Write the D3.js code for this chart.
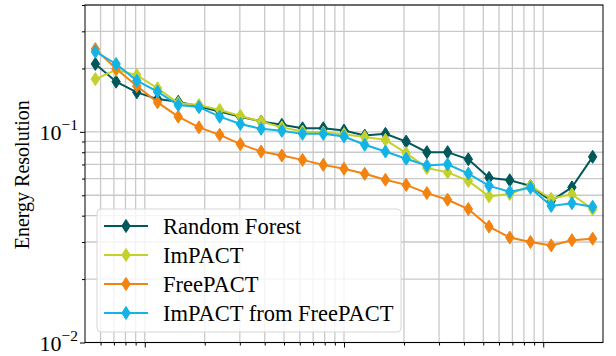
<!DOCTYPE html>
<html>
<head>
<meta charset="utf-8">
<script src="https://cdn.jsdelivr.net/npm/d3@7"></script>
<style>
  html, body { margin: 0; padding: 0; background: #fff; }
  svg { display: block; }
  text { font-family: "Liberation Serif", "DejaVu Serif", serif; fill: #000; }
</style>
</head>
<body>
<svg id="chart" width="616" height="356"></svg>
<script>
// Energy bin centres (TeV), log-spaced bins between 10^-1.3 and 10^1.3
const energies = [0.0565, 0.0718, 0.0912, 0.1159, 0.1472, 0.1871, 0.2377, 0.3020,
  0.3837, 0.4875, 0.6194, 0.7870, 1.0000, 1.2706, 1.6144, 2.0512, 2.6062, 3.3113,
  4.2073, 5.3456, 6.7920, 8.6298, 10.965, 13.932, 17.701];

const randomForest = [0.210, 0.173, 0.154, 0.143, 0.139, 0.132, 0.125, 0.118, 0.112,
  0.108, 0.104, 0.104, 0.1014, 0.0960, 0.0978, 0.0899, 0.0801, 0.0801, 0.0741,
  0.0605, 0.0589, 0.0554, 0.0470, 0.0545, 0.0761];

const imPACT = [0.178, 0.197, 0.186, 0.161, 0.137, 0.134, 0.127, 0.119, 0.112,
  0.105, 0.1003, 0.0992, 0.0975, 0.0944, 0.0916, 0.0792, 0.0673, 0.0642, 0.0585,
  0.0494, 0.0507, 0.0554, 0.0481, 0.0505, 0.0429];

const freePACT = [0.247, 0.199, 0.165, 0.138, 0.118, 0.105, 0.0968, 0.0874, 0.0806,
  0.0772, 0.0736, 0.0697, 0.0668, 0.0632, 0.0592, 0.0560, 0.0512, 0.0476, 0.0430,
  0.0355, 0.0315, 0.0300, 0.0289, 0.0306, 0.0311];

const imPACTFromFreePACT = [0.240, 0.210, 0.175, 0.155, 0.134, 0.131, 0.118, 0.109,
  0.1033, 0.1011, 0.0978, 0.0978, 0.0950, 0.0868, 0.0806, 0.0745, 0.0692, 0.0701,
  0.0634, 0.0554, 0.0519, 0.0542, 0.0445, 0.0458, 0.0441];

const seriesNames = ["Random Forest", "ImPACT", "FreePACT", "ImPACT from FreePACT"];
const seriesValues = [randomForest, imPACT, freePACT, imPACTFromFreePACT];
const seriesColors = ["#00585a", "#c3d12a", "#f4820f", "#14b3e6"];

const xDomain = [Math.pow(10, -1.3), Math.pow(10, 1.3)];
const yDomain = [0.01, 0.4];
const yMajorTicks = [0.01, 0.1];
const yTickExponents = ["−2", "−1"];
const yLabel = "Energy Resolution";

const svg = d3.select("#chart");
const plot = { left: 85, right: 603, top: 5, bottom: 342.5 };

const x = d3.scaleLog().domain(xDomain).range([plot.left, plot.right]);
const y = d3.scaleLog().domain(yDomain).range([plot.bottom, plot.top]);

// Grid lines: every decade multiple on both axes
const xTicks = x.ticks().filter(t => t >= xDomain[0] && t <= xDomain[1]);
const yTicks = y.ticks().filter(t => t >= yDomain[0] && t <= yDomain[1]);
const isDecade = v => Math.abs(Math.log10(v) - Math.round(Math.log10(v))) < 1e-9;

const grid = svg.append("g").attr("stroke", "#c9c9c9").attr("stroke-width", 1.3);
grid.selectAll("line.vx").data(xTicks).join("line")
  .attr("x1", d => x(d)).attr("x2", d => x(d))
  .attr("y1", plot.top).attr("y2", plot.bottom);
grid.selectAll("line.hy").data(yTicks).join("line")
  .attr("x1", plot.left).attr("x2", plot.right)
  .attr("y1", d => y(d)).attr("y2", d => y(d));

// Axes with outward tick marks (major longer than minor)
const xAxis = d3.axisBottom(x).tickValues(xTicks).tickFormat("")
  .tickSize(0).tickSizeOuter(0);
const gx = svg.append("g").attr("transform", `translate(0,${plot.bottom})`).call(xAxis);
gx.selectAll(".tick line").attr("y2", d => isDecade(d) ? 5 : 3)
  .attr("stroke", "#000").attr("stroke-width", 1);
gx.select(".domain").remove();

const yAxis = d3.axisLeft(y).tickValues(yTicks).tickFormat("")
  .tickSize(0).tickSizeOuter(0);
const gy = svg.append("g").attr("transform", `translate(${plot.left},0)`).call(yAxis);
gy.selectAll(".tick line").attr("x2", d => isDecade(d) ? -5 : -3)
  .attr("stroke", "#000").attr("stroke-width", 1);
gy.select(".domain").remove();

// Y tick labels as 10^n
yMajorTicks.forEach((t, i) => {
  const label = svg.append("text")
    .attr("x", plot.left - 7).attr("y", y(t) + 8)
    .attr("text-anchor", "end").attr("font-size", 22);
  label.append("tspan").text("10");
  label.append("tspan").attr("font-size", 15.5).attr("dy", -10).text(yTickExponents[i]);
});

// Y axis title
svg.append("text")
  .attr("transform", `translate(29,${(plot.top + plot.bottom) / 2 + 1}) rotate(-90)`)
  .attr("text-anchor", "middle").attr("font-size", 20)
  .text(yLabel);

// Series lines and thin diamond markers
const line = d3.line().x((d, i) => x(energies[i])).y(d => y(d));
const diamond = "M0,-6.5L4.2,0L0,6.5L-4.2,0Z";

seriesValues.forEach((vals, s) => {
  const g = svg.append("g");
  g.append("path").datum(vals)
    .attr("d", line).attr("fill", "none")
    .attr("stroke", seriesColors[s]).attr("stroke-width", 2);
  g.selectAll("path.m").data(vals).join("path")
    .attr("transform", (d, i) => `translate(${x(energies[i])},${y(d)})`)
    .attr("d", diamond).attr("fill", seriesColors[s])
    .attr("stroke", seriesColors[s]).attr("stroke-width", 1);
});

// Frame
svg.append("rect")
  .attr("x", plot.left).attr("y", plot.top)
  .attr("width", plot.right - plot.left).attr("height", plot.bottom - plot.top)
  .attr("fill", "none").attr("stroke", "#000").attr("stroke-width", 1);

// Legend
const legend = svg.append("g");
legend.append("rect")
  .attr("x", 97).attr("y", 209).attr("width", 304).attr("height", 123)
  .attr("rx", 4).attr("fill", "#fff").attr("fill-opacity", 0.8)
  .attr("stroke", "#d6d6d6").attr("stroke-width", 1);
seriesNames.forEach((name, s) => {
  const cy = 226 + s * 29;
  legend.append("line").attr("x1", 104).attr("x2", 148)
    .attr("y1", cy).attr("y2", cy)
    .attr("stroke", seriesColors[s]).attr("stroke-width", 2);
  legend.append("path").attr("transform", `translate(126,${cy})`)
    .attr("d", diamond).attr("fill", seriesColors[s])
    .attr("stroke", seriesColors[s]).attr("stroke-width", 1);
  legend.append("text").attr("x", 163).attr("y", cy + 7.5)
    .attr("font-size", 22.5).text(name);
});
</script>
</body>
</html>
